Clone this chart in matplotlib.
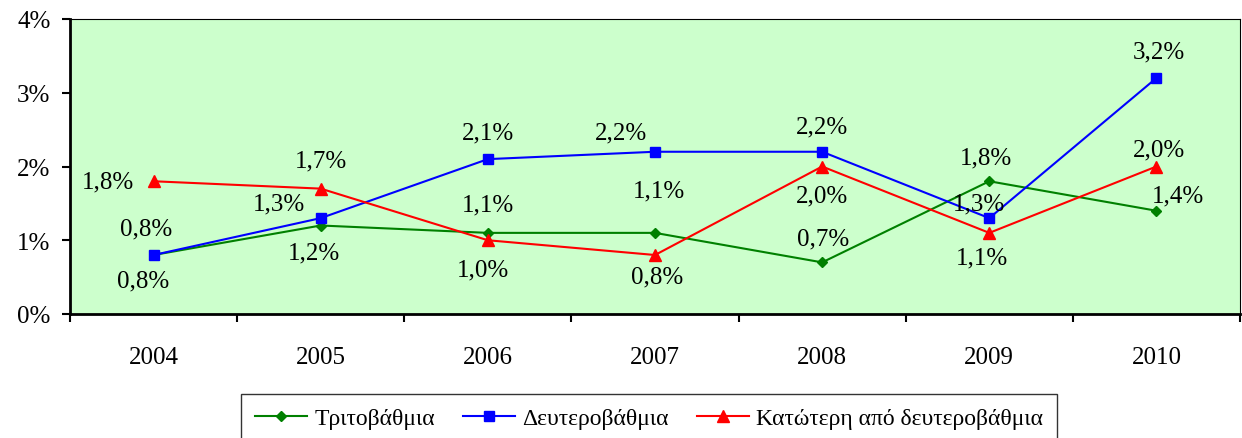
import matplotlib
matplotlib.use('Agg')
import matplotlib.pyplot as plt

# data
years = ['2004', '2005', '2006', '2007', '2008', '2009', '2010']
tertiary = [0.8, 1.2, 1.1, 1.1, 0.7, 1.8, 1.4]
secondary = [0.8, 1.3, 2.1, 2.2, 2.2, 1.3, 3.2]
below_secondary = [1.8, 1.7, 1.0, 0.8, 2.0, 1.1, 2.0]
names = ['Τριτοβάθμια', 'Δευτεροβάθμια', 'Κατώτερη από δευτεροβάθμια']

# label offsets in pixels (dx right, dy down) relative to each point
off_green = [(-10, 25), (-7, 27), (0, -28), (4, -42), (1, -24), (-3, -24), (22, -15)]
off_blue = [(-7, -27), (-42, -15), (0, -27), (-34, -19), (0, -25), (-10, -15), (2, -27)]
off_red = [(-46, 0), (0, -28), (-5, 29), (2, 21), (0, 29), (-7, 25), (3, -17)]

plt.rcParams['font.family'] = ['Liberation Serif', 'DejaVu Serif']

fig = plt.figure(figsize=(12.42, 4.39), dpi=100)
ax = fig.add_axes([70 / 1242, 124 / 439, 1170 / 1242, 295 / 439])
ax.set_facecolor('#CCFFCC')

x = list(range(len(years)))
series = [
    (tertiary, '#008000', 'D', 5, off_green),
    (secondary, '#0000FF', 's', 7, off_blue),
    (below_secondary, '#FF0000', '^', 8, off_red),
]
for (vals, col, mk, ms, offs), name in zip(series, names):
    ax.plot(x, vals, color=col, marker=mk, markersize=ms, linewidth=1.5, label=name)
    for xi, v, (dx, dy) in zip(x, vals, offs):
        ax.annotate(('%.1f%%' % v).replace('.', ','), (xi, v),
                    xytext=(dx * 0.72, -dy * 0.72), textcoords='offset points',
                    ha='center', va='center', fontsize=18)

ax.set_xlim(-0.5, len(years) - 0.5)
ax.set_ylim(0, 4)
ax.set_yticks([0, 1, 2, 3, 4])
ax.set_yticklabels(['%d%%' % v for v in range(5)], fontsize=18)
ax.set_xticks([i - 0.5 for i in range(len(years) + 1)])
ax.set_xticklabels([])
ax.set_xticks(x, minor=True)
ax.set_xticklabels(years, minor=True, fontsize=18)
ax.tick_params(axis='x', which='minor', length=0, pad=23)
ax.tick_params(axis='x', which='major', length=6, width=1.5, direction='out')
ax.tick_params(axis='y', length=6, width=1.5, direction='out', pad=8)

ax.spines['left'].set_linewidth(2)
ax.spines['bottom'].set_linewidth(2)
ax.spines['top'].set_linewidth(0.8)
ax.spines['right'].set_linewidth(0.8)

leg = fig.legend(loc='upper center', bbox_to_anchor=(649 / 1242, 56 / 439), ncol=3,
                 fontsize=17, frameon=True, fancybox=False, edgecolor='black',
                 handlelength=2.2, columnspacing=1.2, handletextpad=0.3,
                 borderpad=0.6)
leg.get_frame().set_linewidth(1.0)

fig.savefig('out.png', dpi=100)
